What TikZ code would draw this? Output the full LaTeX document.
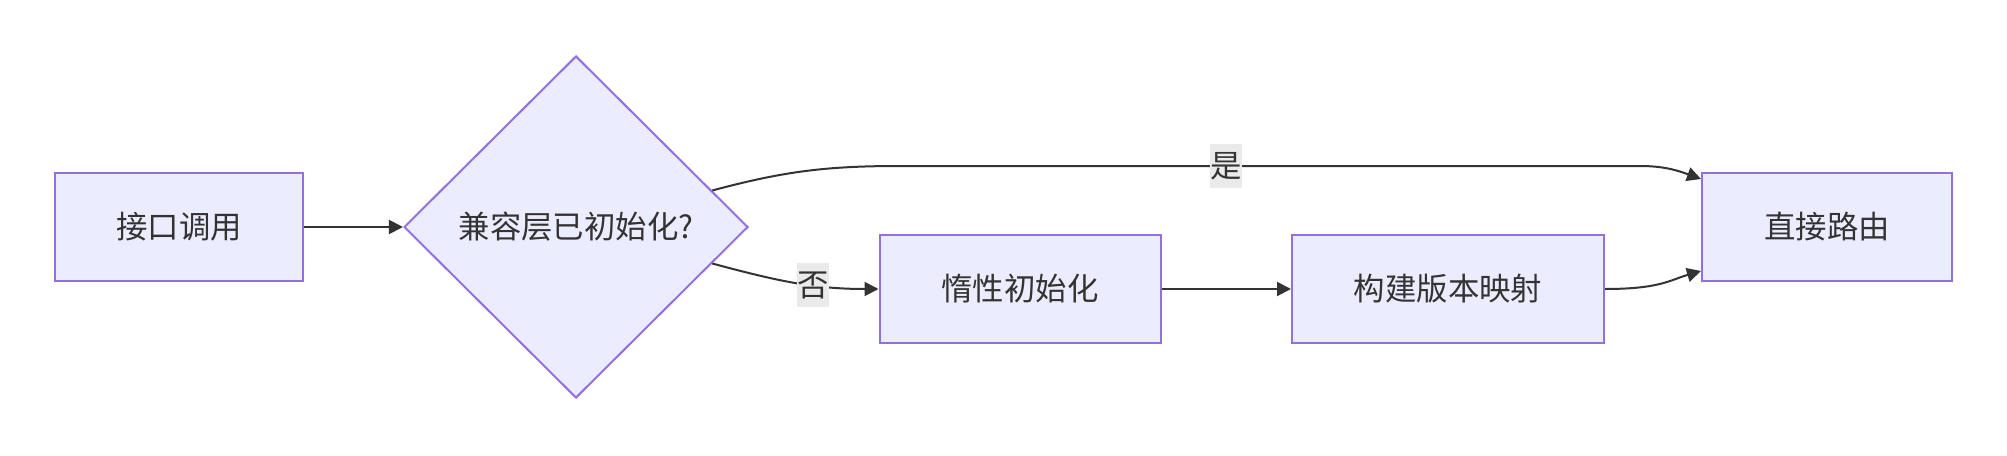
\documentclass[tikz,border=0pt]{standalone}
\usepackage{fontspec}
\newfontfamily\cjk{Noto Sans CJK SC}
\usetikzlibrary{arrows.meta}
\usetikzlibrary{shapes.geometric}
\usetikzlibrary{positioning}

\definecolor{boxfill}{HTML}{ECECFF}
\definecolor{boxline}{HTML}{9370DB}
\definecolor{ink}{HTML}{333333}
\definecolor{lblfill}{HTML}{EAEAEA}

\tikzset{
  box/.style={draw=boxline, fill=boxfill, line width=1pt, inner sep=0pt,
    minimum height=54pt, text=ink, font=\cjk\fontsize{15.7}{18}\selectfont},
  decide/.style={box, diamond, aspect=1, minimum width=172pt, minimum height=171pt},
  flow/.style={draw=ink, line width=1pt, -{Triangle[length=7pt,width=7pt]}},
  lbl/.style={fill=lblfill, text=ink, inner sep=0pt, minimum width=16pt, minimum height=22pt,
    font=\cjk\fontsize{15.7}{18}\selectfont}
}

\begin{document}
\begin{tikzpicture}[x=0.5pt, y=-0.5pt]

\useasboundingbox[fill=white] (0,0) rectangle (2007,455);

\node[box, minimum width=124pt] (call) at (179,227) {接口调用};
\node[decide] (init) at (576,227) {兼容层已初始化?};
\node[box, minimum width=140.5pt] (lazy) at (1020,289) {惰性初始化};
\node[box, minimum width=156pt] (map) at (1448,289) {构建版本映射};
\node[box, minimum width=125pt] (route) at (1827,227) {直接路由};

\draw[flow] (call) -- (init);
\draw[flow] (init.15) to[out=15,in=180] (900,166) -- (1226,166) node[lbl]{是}
  -- (1640,166) to[out=0,in=160] ([yshift=24pt]route.west);
\draw[flow] (init.-15) to[out=-15,in=180] node[lbl, pos=0.62]{否} (lazy.west);
\draw[flow] (lazy) -- (map);
\draw[flow] (map.east) .. controls (1660,289) and (1670,280) .. ([yshift=-22pt]route.west);

\end{tikzpicture}
\end{document}
